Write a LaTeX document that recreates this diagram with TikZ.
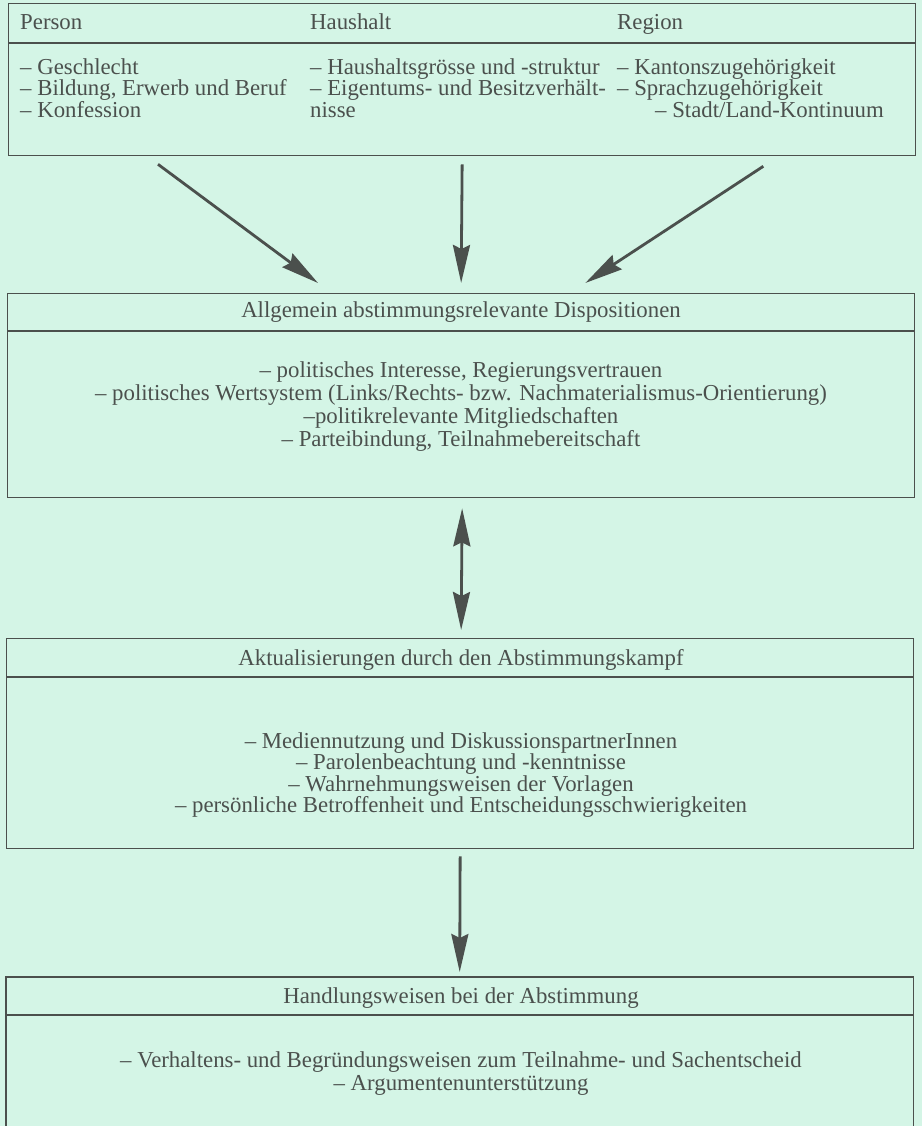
\documentclass[tikz,border=0pt]{standalone}
\usepackage{fontspec}
\setmainfont{Liberation Serif}
\usetikzlibrary{arrows.meta}
\definecolor{hgrund}{HTML}{D4F5E6}
\definecolor{tinte}{HTML}{4B504D}
\begin{document}
\begin{tikzpicture}[x=1pt, y=-1pt,
	kasten/.style={minimum width=907pt, anchor=north west, inner sep=0pt},
	linie/.style={draw=tinte, line width=1.3pt},
	schrift/.style={text=tinte, inner sep=0pt, font=\fontsize{22.8}{21.5}\selectfont},
	pfeil/.style={draw=tinte, line width=2.8pt, -{Stealth[length=38pt, width=17pt, inset=4pt]}},
	doppelpfeil/.style={draw=tinte, line width=2.8pt, {Stealth[length=38pt, width=17pt, inset=4pt]}-{Stealth[length=38pt, width=17pt, inset=4pt]}}]
	\useasboundingbox[fill=hgrund] (0,0) rectangle (922,1126);
	\node[kasten, linie, minimum height=152pt] (b1) at (8,3) {};
	\node[kasten, linie, minimum height=204pt] (b2) at (7,293) {};
	\node[kasten, linie, minimum height=210pt] (b3) at (6,638) {};
	\node[kasten, minimum height=150pt] (b4) at (6,977) {};
	\draw[linie] (b4.south west) -- (b4.north west) -- (b4.north east) -- (b4.south east);
	\draw[linie] ([yshift=-40pt]b1.north west) -- ([yshift=-40pt]b1.north east);
	\draw[linie] ([yshift=-38pt]b2.north west) -- ([yshift=-38pt]b2.north east);
	\draw[linie] ([yshift=-39pt]b3.north west) -- ([yshift=-39pt]b3.north east);
	\draw[linie] ([yshift=-38pt]b4.north west) -- ([yshift=-38pt]b4.north east);
	\node[schrift, anchor=base west] (person) at (20,30) {Person};
	\node[schrift, anchor=base west] (haushalt) at (310,30) {Haushalt};
	\node[schrift, anchor=base west] (region) at (617,30) {Region};
	\node[schrift, anchor=west, align=left] (personliste) at (20,88) {-- Geschlecht\\-- Bildung, Erwerb und Beruf\\-- Konfession};
	\node[schrift, anchor=west, align=left] (haushaltliste) at (310,88) {-- Haushaltsgrösse und -struktur\\-- Eigentums- und Besitzverhält-\\nisse};
	\node[schrift, anchor=west, align=left] (regionliste) at (617,88) {-- Kantonszugehörigkeit\\-- Sprachzugehörigkeit\\\hspace*{38pt}-- Stadt/Land-Kontinuum};
	\node[schrift] (dispo) at (461,312) {Allgemein abstimmungsrelevante Dispositionen};
	\node[schrift, align=center, font=\fontsize{22.8}{23}\selectfont] (dispoliste) at (461,407) {-- politisches Interesse, Regierungsvertrauen\\-- politisches Wertsystem (Links/Rechts- bzw. Nachmaterialismus-Orientierung)\\--politikrelevante Mitgliedschaften\\-- Parteibindung, Teilnahmebereitschaft};
	\node[schrift] (aktual) at (461,660) {Aktualisierungen durch den Abstimmungskampf};
	\node[schrift, align=center] (aktualliste) at (461,775) {-- Mediennutzung und DiskussionspartnerInnen\\-- Parolenbeachtung und -kenntnisse\\-- Wahrnehmungsweisen der Vorlagen\\-- persönliche Betroffenheit und Entscheidungsschwierigkeiten};
	\node[schrift] (handlung) at (461,998) {Handlungsweisen bei der Abstimmung};
	\node[schrift, align=center, font=\fontsize{22.8}{23}\selectfont] (handlungliste) at (461,1074) {-- Verhaltens- und Begründungsweisen zum Teilnahme- und Sachentscheid\\-- Argumentenunterstützung};
	\draw[pfeil] ([shift={(150pt,-8pt)}]b1.south west) -- ([shift={(311pt,10pt)}]b2.north west);
	\draw[pfeil] ([yshift=-8pt]b1.south) -- ([yshift=10pt]b2.north);
	\draw[pfeil] ([shift={(-153pt,-10pt)}]b1.south east) -- ([shift={(-330pt,10pt)}]b2.north east);
	\draw[doppelpfeil] ([shift={(1pt,-10pt)}]b2.south) -- ([shift={(1pt,8pt)}]b3.north);
	\draw[pfeil] ([yshift=-7pt]b3.south) -- ([yshift=5pt]b4.north);
\end{tikzpicture}
\end{document}
